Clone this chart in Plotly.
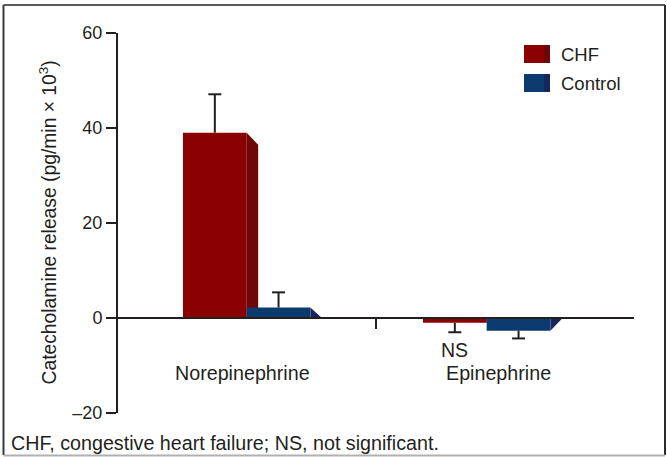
import plotly.graph_objects as go

# ---- data -------------------------------------------------------------
categories = ["Norepinephrine", "Epinephrine"]
series_names = ["CHF", "Control"]
chf_values = [39.0, -1.0]
chf_errors = [8.1, 2.0]
control_values = [2.2, -2.7]
control_errors = [3.2, 1.6]
y_tick_values = [-20, 0, 20, 40, 60]
y_tick_labels = ["\u201320", "0", "20", "40", "60"]
significance_labels = ["", "NS"]

# ---- styling ----------------------------------------------------------
W, H = 667, 457
FONT = "Liberation Sans, Arial, sans-serif"
INK = "#231f20"
FRONT = {"CHF": "#8b0000", "Control": "#0b3a6e"}
SIDE = {"CHF": "#6e0808", "Control": "#17275b"}

X_RANGE = [-0.5404, 1.6138]
Y_RANGE = [-20, 60]
X_DOM = [117 / W, 634 / W]
Y_DOM = [1 - 413 / H, 1 - 33 / H]
BAR_W = 0.2655
DEPTH_PX = 11.5          # horizontal extrusion of the 3-D side face
DROP_PX = 12.0           # vertical slope of the side face
CAP_PX = 6.5             # half-width of the error-bar caps

px_per_x = (X_DOM[1] - X_DOM[0]) * W / (X_RANGE[1] - X_RANGE[0])
px_per_y = (Y_DOM[1] - Y_DOM[0]) * H / (Y_RANGE[1] - Y_RANGE[0])
depth_x = DEPTH_PX / px_per_x
drop_y = DROP_PX / px_per_y
cap_x = CAP_PX / px_per_x


def px(x):
    return x / W


def py(y):
    return 1 - y / H


fig = go.Figure()
shapes = []
annotations = []

groups = [
    ("CHF", chf_values, chf_errors, -BAR_W),
    ("Control", control_values, control_errors, 0.0),
]

err_x, err_y = [], []
for name, vals, errs, offset in groups:
    fig.add_trace(go.Bar(
        x=list(range(len(categories))), y=vals, name=name,
        offset=offset, width=BAR_W,
        marker=dict(color=FRONT[name], line=dict(width=0)),
        showlegend=False, hoverinfo="skip",
    ))
    for i, (v, e) in enumerate(zip(vals, errs)):
        left = i + offset
        right = left + BAR_W
        centre = left + BAR_W / 2
        sign = 1 if v >= 0 else -1
        # side face: slopes back toward the baseline, clipped at zero
        far = v - sign * drop_y
        if far * sign < 0:
            far = 0.0
        shapes.append(dict(
            type="path", xref="x", yref="y", layer="below",
            path=f"M{right},0 L{right},{v} L{right + depth_x},{far} L{right + depth_x},0 Z",
            fillcolor=SIDE[name], line=dict(width=0),
        ))
        tip = v + sign * e
        err_x += [centre, centre, None, centre - cap_x, centre + cap_x, None]
        err_y += [v, tip, None, tip, tip, None]

fig.add_trace(go.Scatter(
    x=err_x, y=err_y, mode="lines",
    line=dict(color=INK, width=2), showlegend=False, hoverinfo="skip",
))

# category labels under the baseline
label_shift = [-4, 12]
for i, cat in enumerate(categories):
    annotations.append(dict(
        x=i, xref="x", y=py(373), yref="paper", text=cat, showarrow=False,
        xshift=label_shift[i], xanchor="center", yanchor="middle",
        font=dict(family=FONT, size=19.7, color=INK),
    ))

# significance marks under the CHF error bars
for i, txt in enumerate(significance_labels):
    if txt:
        annotations.append(dict(
            x=i - BAR_W / 2, xref="x", y=py(350), yref="paper", text=txt,
            showarrow=False, xanchor="center", yanchor="middle",
            font=dict(family=FONT, size=19.5, color=INK),
        ))

# y-axis title
annotations.append(dict(
    x=px(47), y=py(222.5), xref="paper", yref="paper",
    text="Catecholamine release (pg/min \u00d7 10<sup>3</sup>)",
    textangle=-90, showarrow=False, xanchor="center", yanchor="middle",
    font=dict(family=FONT, size=19.3, color=INK),
))

# legend with extruded swatches
legend_rows = [54, 83]
for name, yc in zip(series_names, legend_rows):
    shapes.append(dict(type="rect", xref="paper", yref="paper",
                       x0=px(524), x1=px(544.5), y0=py(yc - 9), y1=py(yc + 9),
                       fillcolor=FRONT[name], line=dict(width=0)))
    shapes.append(dict(type="rect", xref="paper", yref="paper",
                       x0=px(544), x1=px(550), y0=py(yc - 9), y1=py(yc + 9),
                       fillcolor=SIDE[name], line=dict(width=0)))
    annotations.append(dict(
        x=px(559), y=py(yc), xref="paper", yref="paper", text=name,
        showarrow=False, xanchor="left", yanchor="middle",
        font=dict(family=FONT, size=18.5, color=INK),
    ))

# footnote
annotations.append(dict(
    x=px(9), y=py(443), xref="paper", yref="paper",
    text="CHF, congestive heart failure; NS, not significant.",
    showarrow=False, xanchor="left", yanchor="middle",
    font=dict(family=FONT, size=19.7, color=INK),
))

# outer frame
frame = [
    (3.5, 5, 665, 5, "#5a5a5a"),
    (3.5, 5, 3.5, 455, "#3a3a3a"),
    (665, 5, 665, 455, "#2a2a2a"),
    (3.5, 455.5, 665, 455.5, "#b0b0b0"),
]
for x0, y0, x1, y1, c in frame:
    shapes.append(dict(type="line", xref="paper", yref="paper",
                       x0=px(x0), y0=py(y0), x1=px(x1), y1=py(y1),
                       line=dict(color=c, width=2)))

zero_pos = Y_DOM[0] + (0 - Y_RANGE[0]) / (Y_RANGE[1] - Y_RANGE[0]) * (Y_DOM[1] - Y_DOM[0])

fig.update_layout(
    template="none",
    width=W, height=H,
    margin=dict(l=0, r=0, t=0, b=0, pad=0, autoexpand=False),
    paper_bgcolor="white", plot_bgcolor="white",
    barmode="overlay",
    showlegend=False,
    shapes=shapes,
    annotations=annotations,
    font=dict(family=FONT, color=INK),
    xaxis=dict(
        domain=X_DOM, range=X_RANGE, anchor="free", position=zero_pos,
        automargin=False,
        showline=True, linecolor=INK, linewidth=2,
        ticks="outside", tickvals=[0.54], ticklen=10, tickwidth=2, tickcolor=INK,
        showticklabels=False, showgrid=False, zeroline=False, fixedrange=True,
    ),
    yaxis=dict(
        domain=Y_DOM, range=Y_RANGE, anchor="free", position=X_DOM[0],
        automargin=False,
        showline=True, linecolor=INK, linewidth=2,
        ticks="outside", ticklen=10, tickwidth=2, tickcolor=INK,
        tickvals=y_tick_values, ticktext=y_tick_labels,
        tickfont=dict(family=FONT, size=18, color=INK),
        showgrid=False, zeroline=False, fixedrange=True,
    ),
)

fig.write_html("out.html")
